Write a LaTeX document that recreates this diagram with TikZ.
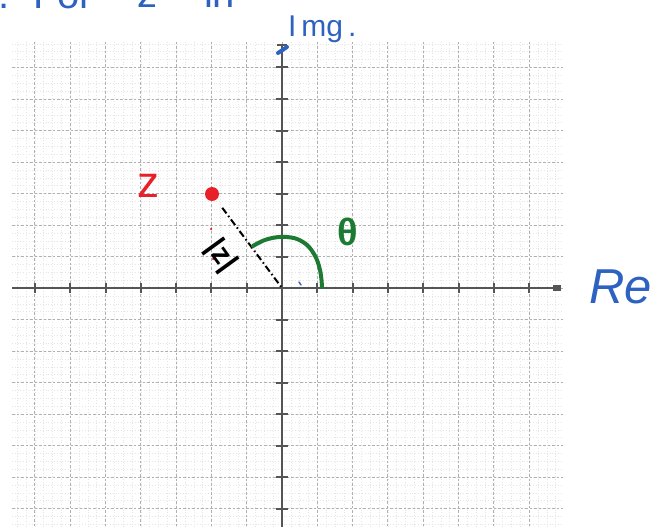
\documentclass[tikz,border=0pt]{standalone}
\usepackage{fontspec}
\setmainfont{Liberation Sans}
\definecolor{hblue}{HTML}{2E62C0}
\definecolor{hred}{HTML}{E8202A}
\definecolor{hgreen}{HTML}{1D7A33}
\definecolor{axisgray}{HTML}{555555}
\tikzset{
  minorgrid/.style={draw=gray!20, line width=0.5pt, dash pattern=on 0.6pt off 2.2pt},
  majorgrid/.style={draw=gray!62, line width=0.9pt, dash pattern=on 2.5pt off 2pt},
  axisline/.style={draw=axisgray, line width=1.8pt},
  tickmark/.style={draw=axisgray, line width=2pt},
  zdot/.style={circle, fill=hred, inner sep=0pt, minimum width=14pt, minimum height=13pt},
  speck/.style={circle, fill=hred, inner sep=0pt, minimum size=2.5pt},
  dashdotline/.style={draw=black, line width=2pt, dash pattern=on 7pt off 3pt on 1.5pt off 3pt},
  greenarc/.style={draw=hgreen, line width=4pt, line cap=round, line join=round},
  bluepen/.style={draw=hblue, line width=4pt, line cap=round},
  hand/.style={inner sep=0pt, outer sep=0pt},
}
\begin{document}
\begin{tikzpicture}[x=1pt,y=-1pt]
\useasboundingbox (0,0) rectangle (651,527);
\clip (0,0) rectangle (651,527);
\fill[white] (0,0) rectangle (651,527);
% minor grid
\foreach \k in {-30,...,31} {
  \draw[minorgrid] ({282+35.3*\k/4},42) -- ({282+35.3*\k/4},527);
}
\foreach \j in {-31,...,31} {
  \draw[minorgrid] (12,{288+31.5*\j/4}) -- (563,{288+31.5*\j/4});
}
% major grid
\foreach \k in {-7,...,7} {
  \draw[majorgrid] ({282+35.3*\k},42) -- ({282+35.3*\k},527);
}
\foreach \j in {-7,...,7} {
  \draw[majorgrid] (12,{288+31.5*\j}) -- (563,{288+31.5*\j});
}
% axes
\coordinate (O) at (282,288);
\coordinate (xend) at (556,288);
\coordinate (ytop) at (282,45);
\draw[axisline] (12,288) -- (xend);
\fill[axisgray] (553,285) rectangle (561,291);
\draw[axisline] (ytop) -- (282,527);
\draw[tickmark] (277,45) -- (287,45);
\foreach \k in {-7,...,7} {
  \draw[tickmark] ({282+35.3*\k},283) -- ({282+35.3*\k},293);
}
\foreach \j in {-7,...,7} {
  \draw[tickmark] (276,{288+31.5*\j}) -- (288,{288+31.5*\j});
}
% top handwritten text (cut off at the top edge, as in the reference)
\node[hand, anchor=base east, text=hblue, font=\fontsize{40}{40}\selectfont] (t1) at (10,9) {1.};
\node[hand, anchor=base west, text=hblue, font=\fontsize{40}{40}\selectfont] (t2) at (33,9) {For};
\node[hand, anchor=base west, text=hblue, font=\fontsize{40}{40}\selectfont] (t3) at (137,8) {z};
\node[hand, anchor=base west, text=hblue, font=\fontsize{40}{40}\selectfont] (t4) at (204,8) {in};
% Img label
\draw[bluepen] (278,53) -- (287,47);
\node[hand, anchor=base west, text=hblue, font=\fontsize{30}{30}\selectfont] (img) at (288,37) {I\hspace{5pt}mg\hspace{5pt}.};
% Re label
\node[hand, anchor=base west, text=hblue, font=\fontsize{49}{49}\selectfont\itshape] (re) at (589,303) {Re};
% z point
\node[zdot] (zp) at (212,194) {};
\node[hand, anchor=base west, text=hred, font=\fontsize{44}{44}\selectfont] (zl) at (137,197) {z};
\node[speck] (s1) at (211,229) {};
\node[speck] (s2) at (213,259) {};
\draw[dashdotline, shorten <=10pt] (zp) -- (O);
% |z| label
\node[hand, rotate=-54, font=\fontsize{29}{29}\selectfont\bfseries] (modz) at (221,256) {|\hspace{1pt}z\hspace{1pt}|};
% theta arc
\draw[greenarc] plot[smooth, tension=0.7] coordinates {(253,246) (268,239) (287,237) (303,242) (314,254) (320,270) (322,287)};
\node[hand, text=hgreen, font=\fontsize{38}{38}\selectfont\bfseries] (th) at (348,232) {θ};
% small blue speck
\draw[draw=hblue, line width=1.5pt, line cap=round] (299,282) -- (301,285);
\end{tikzpicture}
\end{document}
